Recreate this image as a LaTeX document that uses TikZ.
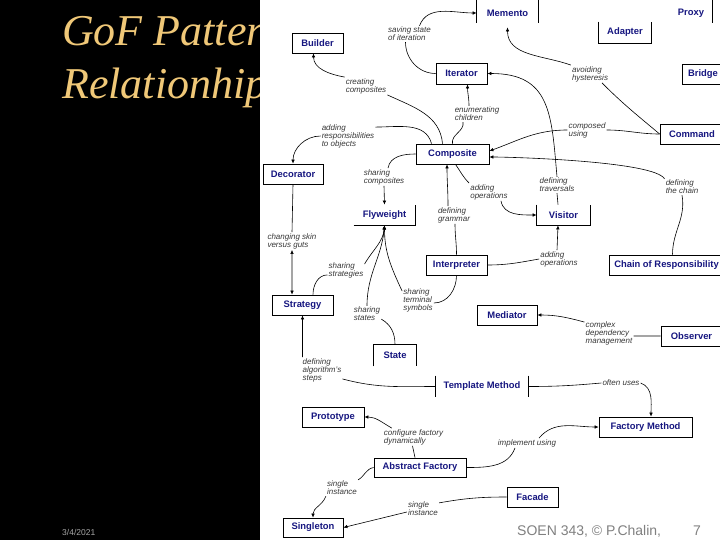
\documentclass[tikz,border=0pt]{standalone}
\usepackage{fontspec}
\setsansfont{Liberation Sans}
\newfontfamily\titlefont{Liberation Serif}
\usetikzlibrary{arrows.meta}
\definecolor{navy}{RGB}{22,22,128}
\definecolor{gold}{RGB}{240,200,120}
\definecolor{notegray}{RGB}{55,55,55}
\tikzset{
  box/.style={draw, line width=0.8pt, fill=white, inner sep=0pt, minimum height=20pt,
    text=navy, font=\sffamily\bfseries\fontsize{9.4}{10}\selectfont},
  openbox/.style={box, draw=none},
  rim/.style={line width=0.8pt},
  note/.style={inner sep=1pt, align=left, text=notegray,
    font=\sffamily\itshape\fontsize{8}{8}\selectfont},
  link/.style={line width=0.6pt, -{Latex[length=4pt,width=3.6pt]}},
  dlink/.style={line width=0.6pt, {Latex[length=4pt,width=3.6pt]}-{Latex[length=4pt,width=3.6pt]}},
  corner/.style={anchor=base west, inner sep=0pt}
}
\begin{document}
\begin{tikzpicture}[x=1pt,y=1pt]
    \useasboundingbox (0,0) rectangle (720,-540);
    \fill[black] (0,0) rectangle (720,-540);
    \node[corner, text=gold, font=\titlefont\itshape\fontsize{44}{53}\selectfont] (title1) at (62,-46) {GoF Pattern};
    \node[corner, text=gold, font=\titlefont\itshape\fontsize{44}{53}\selectfont] (title2) at (62,-99) {Relationhips};
    \fill[white] (260,0) rectangle (720,-540);
    \node[corner, text=white!65!black, font=\sffamily\fontsize{8.5}{10}\selectfont] (date) at (62,-535) {3/4/2021};

    \node[openbox, minimum width=61pt, minimum height=24pt] (mem) at (507.5,-13) {Memento};
    \node[openbox, minimum width=42pt, minimum height=24pt] (proxy) at (691,-13) {Proxy};
    \node[openbox, minimum width=52pt, minimum height=21pt] (adapt) at (625,-32.5) {Adapter};
    \node[box, minimum width=51pt] (build) at (317.5,-43) {Builder};
    \node[box, minimum width=51pt, minimum height=21pt] (iter) at (461.5,-73.5) {Iterator};
    \node[box, minimum width=42pt] (bridge) at (703,-74) {Bridge};
    \node[box, minimum width=64pt] (cmd) at (692,-134) {Command};
    \node[box, minimum width=73pt] (comp) at (452.5,-154) {Composite};
    \node[box, minimum width=60pt] (deco) at (293,-174) {Decorator};
    \node[openbox, minimum width=61pt] (fly) at (384.5,-215) {Flyweight};
    \node[openbox, minimum width=53pt] (visit) at (563.5,-215) {Visitor};
    \node[box, minimum width=61pt] (interp) at (456.5,-265) {Interpreter};
    \node[box, minimum width=115pt] (chain) at (666.5,-265) {Chain of Responsibility};
    \node[box, minimum width=61pt] (strat) at (302.5,-305) {Strategy};
    \node[box, minimum width=60pt] (med) at (507,-315) {Mediator};
    \node[box, minimum width=61pt] (obs) at (691.5,-336) {Observer};
    \node[openbox, minimum width=42pt, minimum height=21pt] (state) at (395,-355.5) {State};
    \node[openbox, minimum width=92pt, minimum height=21pt] (tmeth) at (482,-386.5) {Template Method};
    \node[box, minimum width=62pt] (proto) at (333,-417) {Prototype};
    \node[box, minimum width=93pt] (fmeth) at (645.5,-427) {Factory Method};
    \node[box, minimum width=92pt, minimum height=19pt] (afact) at (420,-467.5) {Abstract Factory};
    \node[box, minimum width=51pt] (facade) at (532.5,-497) {Facade};
    \node[box, minimum width=60pt, minimum height=19pt] (single) at (313,-527.5) {Singleton};

    \draw[rim] ([yshift=2pt]mem.north west) -- ([yshift=2pt]mem.south west) ([yshift=2pt]mem.north east) -- ([yshift=2pt]mem.south east);
    \draw[rim] ([yshift=2pt]proxy.north east) -- ([yshift=2pt]proxy.south east);
    \draw[rim] (adapt.north west) -- (adapt.south west) -- (adapt.south east) -- (adapt.north east);
    \draw[rim] (fly.south west) -- (fly.south east) -- (fly.north east);
    \draw[rim] (visit.north west) -- (visit.south west) -- (visit.south east) -- (visit.north east);
    \draw[rim] (state.south west) -- (state.north west) -- (state.north east) -- (state.south east);
    \draw[rim] (tmeth.north west) -- (tmeth.south west) (tmeth.north east) -- (tmeth.south east);

    \node[note] (lsave) at (409.5,-34) {saving state\\of iteration};
    \node[note] (lcreate) at (366,-86) {creating\\composites};
    \node[note] (lenum) at (477,-114) {enumerating\\children};
    \node[note] (lresp) at (348,-136) {adding\\responsibilities\\to objects};
    \node[note] (lhyst) at (590,-74) {avoiding\\hysteresis};
    \node[note] (lcompose) at (587,-130) {composed\\using};
    \node[note] (lsharecomp) at (384,-177) {sharing\\composites};
    \node[note] (laddcomp) at (489,-192) {adding\\operations};
    \node[note] (ltrav) at (557,-185) {defining\\traversals};
    \node[note] (lchain) at (682,-187) {defining\\the chain};
    \node[note] (lgram) at (454,-215) {defining\\grammar};
    \node[note] (lskin) at (292,-241) {changing skin\\versus guts};
    \node[note] (laddvis) at (559,-259) {adding\\operations};
    \node[note] (lstrat) at (346,-270) {sharing\\strategies};
    \node[note] (lterm) at (418,-300) {sharing\\terminal\\symbols};
    \node[note] (lstates) at (367,-314) {sharing\\states};
    \node[note] (ldep) at (609,-333) {complex\\dependency\\management};
    \node[note] (lalgo) at (322,-370) {defining\\algorithm's\\steps};
    \node[note] (loften) at (621,-383) {often uses};
    \node[note] (lconf) at (413.5,-437) {configure factory\\dynamically};
    \node[note] (limpl) at (527,-443) {implement using};
    \node[note] (lsgl1) at (342,-488) {single\\instance};
    \node[note] (lsgl2) at (423,-509) {single\\instance};

    \draw[link] (iter.west) to[out=180,in=-90] ([xshift=-4pt]lsave.south) ([xshift=10pt]lsave.north) to[out=70,in=180] (mem.west);
    \draw[link] ([xshift=-10pt]comp.north) to[out=95,in=-25] (lcreate.south east) (lcreate.north west) to[out=170,in=-90] ([xshift=-4pt]build.south);
    \draw[link] (comp.north) to[out=100,in=-80] ([xshift=-14pt]lenum.south) ([xshift=-8pt]lenum.north) to[out=90,in=-90] ([xshift=6pt]iter.south);
    \draw[link] ([xshift=-21pt]comp.north) to[out=105,in=0] ([yshift=-4pt]lresp.north east) (lresp.west) to[out=180,in=90] (deco.north);
    \draw[link] (cmd.west) to[out=140,in=-45] ([xshift=12pt]lhyst.south) (lhyst.north west) to[out=160,in=-90] ([yshift=-2pt]mem.south);
    \draw[link] (cmd.west) to[out=180,in=0] (lcompose.east) (lcompose.west) to[out=180,in=20] ([yshift=3pt]comp.east);
    \draw[link] ([xshift=6pt]chain.north) to[out=90,in=-80] (lchain.south) (lchain.north west) to[out=120,in=0,looseness=0.3] ([yshift=-3pt]comp.east);
    \draw[link] ([xshift=-5.5pt]visit.north) -- (ltrav.south) (ltrav.north) to[out=95,in=0,looseness=1.3] (iter.east);
    \draw[link] ([xshift=3pt]comp.south) to[out=-55,in=135] (laddcomp.north west) ([xshift=12pt]laddcomp.south) to[out=-80,in=180] (visit.west);
    \draw[link] (interp.north) to[out=90,in=-90] ([xshift=1pt]lgram.south) ([xshift=-6pt]lgram.north) to[out=90,in=-90] ([xshift=-5.5pt]comp.south);
    \draw[link] (interp.east) to[out=0,in=190] (laddvis.west) ([xshift=-2pt]laddvis.north) -- ([xshift=-5.5pt]visit.south);
    \draw[dlink] (deco.south) -- (lskin.north) (lskin.south) -- ([xshift=-10.5pt]strat.north);
    \draw[link] (comp.west) to[out=180,in=80] ([xshift=4pt]lsharecomp.north) (lsharecomp.south) -- (fly.north);
    \draw[link] ([xshift=10.5pt]strat.north) to[out=90,in=180] ([yshift=4pt]lstrat.south west) ([yshift=-3pt]lstrat.north east) to[out=60,in=-95] (fly.south);
    \draw[link] (state.north) to[out=90,in=-30] ([yshift=3pt]lstates.south east) (lstates.north) to[out=90,in=-95] (fly.south);
    \draw[link] (interp.south) to[out=-90,in=0] ([yshift=-3pt]lterm.east) ([yshift=-4pt]lterm.north west) to[out=115,in=-90] (fly.south);
    \draw[link] (obs.west) -- ([yshift=-3pt]ldep.east) ([yshift=-2pt]ldep.north west) to[out=165,in=0] (med.east);
    \draw[link] (tmeth.west) to[out=180,in=-15] ([yshift=4pt]lalgo.south east) ([xshift=1pt]lalgo.north west) -- (strat.south);
    \draw[link] (tmeth.east) to[out=0,in=185] (loften.west) (loften.east) to[out=-20,in=90] ([xshift=5.5pt]fmeth.north);
    \draw[link] ([xshift=-5pt]afact.north) -- ([xshift=-1pt]lconf.south) ([xshift=9pt]lconf.north west) to[out=150,in=0] (proto.east);
    \draw[link] (afact.east) to[out=0,in=-110] ([xshift=-12pt]limpl.south) ([xshift=12pt]limpl.north) to[out=50,in=180] (fmeth.west);
    \draw[link] (afact.west) to[out=190,in=30] (lsgl1.north east) (lsgl1.south west) to[out=-110,in=90] (single.north);
    \draw[link] (facade.west) to[out=180,in=10] ([yshift=-2pt]lsgl2.north east) ([yshift=-3pt]lsgl2.west) -- (single.east);

    \node[corner, text=black!50, font=\sffamily\fontsize{14}{16}\selectfont] (foot) at (517,-535) {SOEN 343, © P.Chalin,};
    \node[corner, text=black!50, font=\sffamily\fontsize{14}{16}\selectfont] (pagenum) at (693,-535) {7};
\end{tikzpicture}
\end{document}
